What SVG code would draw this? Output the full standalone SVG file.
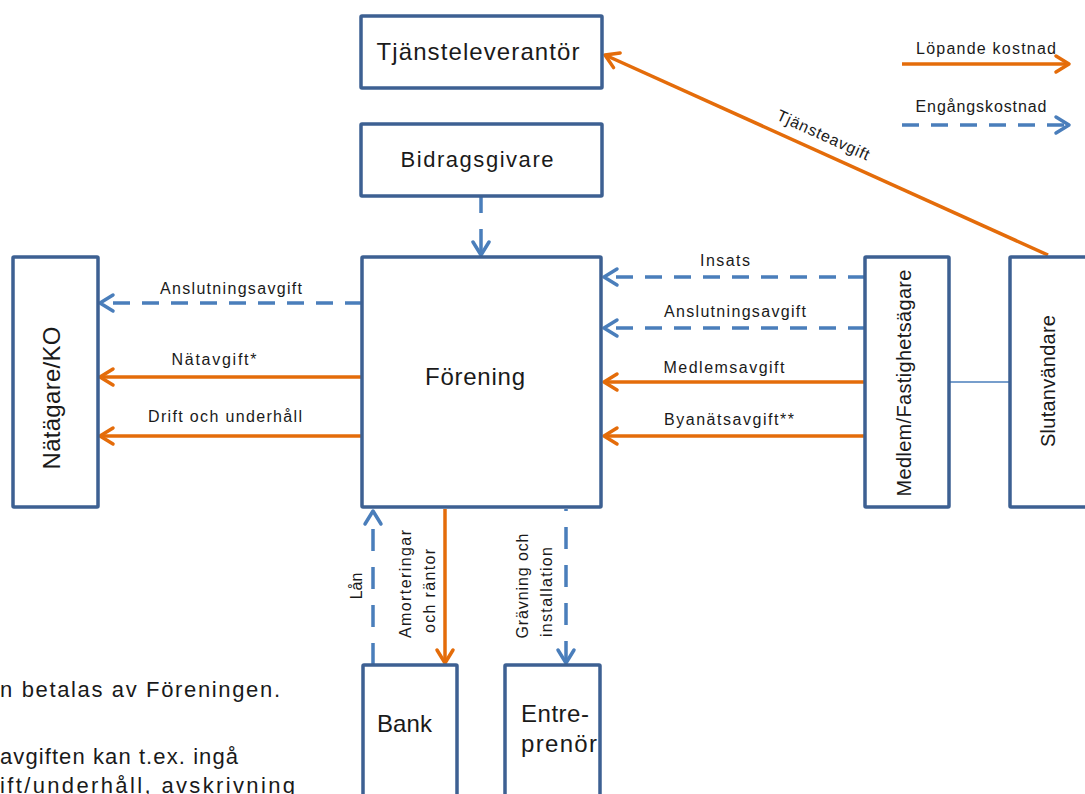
<svg xmlns="http://www.w3.org/2000/svg" width="1085" height="794" viewBox="0 0 1085 794">
<style>
  .box { fill: #ffffff; stroke: #3D6092; stroke-width: 3.5; }
  .t { font-family: "Liberation Sans", Arial, sans-serif; fill: #1a1a1a; }
  .big { font-size: 24px; }
  .mid { font-size: 20px; }
  .lbl { font-size: 16px; }
  .note { font-size: 22px; }
  .run { fill: none; stroke: #E46C0A; stroke-width: 3.5; }
  .once { fill: none; stroke: #4A7EBB; stroke-width: 3.5; stroke-dasharray: 17 12; }
  .oncev { fill: none; stroke: #4A7EBB; stroke-width: 3.5; stroke-dasharray: 22 16; }
  .thin { fill: none; stroke: #4A7EBB; stroke-width: 1.5; }
</style>
<defs>
  <marker id="aO" markerUnits="userSpaceOnUse" markerWidth="24" markerHeight="24" viewBox="-18 -12 24 24" refX="0" refY="0" orient="auto-start-reverse" overflow="visible">
    <path d="M-13,-8 L0,0 L-13,8" fill="none" stroke="#E46C0A" stroke-width="3.5" stroke-linecap="round" stroke-linejoin="round"/>
  </marker>
  <marker id="aB" markerUnits="userSpaceOnUse" markerWidth="24" markerHeight="24" viewBox="-18 -12 24 24" refX="0" refY="0" orient="auto-start-reverse" overflow="visible">
    <path d="M-13,-8 L0,0 L-13,8" fill="none" stroke="#4A7EBB" stroke-width="3.5" stroke-linecap="round" stroke-linejoin="round"/>
  </marker>
</defs>

<g id="connectors">
  <!-- Bidragsgivare -> Förening -->
  <path class="oncev" d="M481,255 L481,197" marker-start="url(#aB)" style="stroke-dasharray:26 16"/>
  <!-- Förening -> Nätägare -->
  <path class="once" d="M362,303 L100,303" marker-end="url(#aB)"/>
  <path class="run" d="M362,377 L100,377" marker-end="url(#aO)"/>
  <path class="run" d="M362,436 L100,436" marker-end="url(#aO)"/>
  <!-- Medlem -> Förening -->
  <path class="once" d="M865,277 L604,277" marker-end="url(#aB)"/>
  <path class="once" d="M865,328 L604,328" marker-end="url(#aB)"/>
  <path class="run" d="M865,382 L604,382" marker-end="url(#aO)"/>
  <path class="run" d="M865,436 L604,436" marker-end="url(#aO)"/>
  <!-- Medlem - Slutanvändare -->
  <path class="thin" d="M949,382 L1010,382"/>
  <!-- Slutanvändare -> Tjänsteleverantör -->
  <path class="run" d="M1048,255 L605,55" marker-end="url(#aO)"/>
  <!-- Bank -> Förening (Lån) -->
  <path class="oncev" d="M373,665 L373,511" marker-end="url(#aB)"/>
  <!-- Förening -> Bank -->
  <path class="run" d="M445,509 L445,663" marker-end="url(#aO)"/>
  <!-- Förening -> Entreprenör -->
  <path class="oncev" d="M566,663 L566,509" marker-start="url(#aB)"/>
  <!-- Legend -->
  <path class="run" d="M902,64 L1069,64" marker-end="url(#aO)"/>
  <path class="once" d="M902,125 L1069,125" marker-end="url(#aB)"/>
</g>

<g id="connector-labels">
  <text class="t lbl" x="231" y="294" text-anchor="middle" textLength="142" lengthAdjust="spacing">Anslutningsavgift</text>
  <text class="t lbl" x="214" y="365" text-anchor="middle" textLength="85" lengthAdjust="spacing">Nätavgift*</text>
  <text class="t lbl" x="225" y="422" text-anchor="middle" textLength="154" lengthAdjust="spacing">Drift och underhåll</text>
  <text class="t lbl" x="725" y="266" text-anchor="middle" textLength="50" lengthAdjust="spacing">Insats</text>
  <text class="t lbl" x="735" y="317" text-anchor="middle" textLength="142" lengthAdjust="spacing">Anslutningsavgift</text>
  <text class="t lbl" x="724" y="373" text-anchor="middle" textLength="121" lengthAdjust="spacing">Medlemsavgift</text>
  <text class="t lbl" x="729" y="425" text-anchor="middle" textLength="130" lengthAdjust="spacing">Byanätsavgift**</text>
  <text class="t lbl" text-anchor="middle" textLength="100" lengthAdjust="spacing" transform="translate(821,140) rotate(24.4)">Tjänsteavgift</text>
  <text class="t lbl" text-anchor="middle" transform="translate(362,586) rotate(-90)">Lån</text>
  <text class="t lbl" text-anchor="middle" textLength="108" lengthAdjust="spacing" transform="translate(411,584) rotate(-90)">Amorteringar</text>
  <text class="t lbl" text-anchor="middle" textLength="84" lengthAdjust="spacing" transform="translate(435,591) rotate(-90)">och räntor</text>
  <text class="t lbl" text-anchor="middle" textLength="105" lengthAdjust="spacing" transform="translate(528,586) rotate(-90)">Grävning och</text>
  <text class="t lbl" text-anchor="middle" textLength="90" lengthAdjust="spacing" transform="translate(552,592) rotate(-90)">installation</text>
  <text class="t lbl" x="986" y="54" text-anchor="middle" textLength="140" lengthAdjust="spacing">Löpande kostnad</text>
  <text class="t lbl" x="981" y="112" text-anchor="middle" textLength="131" lengthAdjust="spacing">Engångskostnad</text>
</g>

<g id="node-tjansteleverantor">
  <rect class="box" x="361" y="16" width="241" height="72" rx="1"/>
  <text class="t big" x="478" y="60" text-anchor="middle" textLength="203" lengthAdjust="spacing">Tjänsteleverantör</text>
</g>
<g id="node-bidragsgivare">
  <rect class="box" x="361" y="124" width="241" height="72" rx="1"/>
  <text class="t" style="font-size:22px" x="477" y="167" text-anchor="middle" textLength="153" lengthAdjust="spacing">Bidragsgivare</text>
</g>
<g id="node-forening">
  <rect class="box" x="362" y="257" width="239" height="250" rx="1"/>
  <text class="t big" x="475" y="385" text-anchor="middle" textLength="100" lengthAdjust="spacing">Förening</text>
</g>
<g id="node-natagare">
  <rect class="box" x="13" y="257" width="85" height="250" rx="1"/>
  <text class="t big" text-anchor="middle" textLength="143" lengthAdjust="spacing" transform="translate(60,398) rotate(-90)">Nätägare/KO</text>
</g>
<g id="node-medlem">
  <rect class="box" x="865" y="257" width="84" height="250" rx="1"/>
  <text class="t mid" text-anchor="middle" textLength="227" lengthAdjust="spacing" transform="translate(911,383) rotate(-90)">Medlem/Fastighetsägare</text>
</g>
<g id="node-slutanvandare">
  <rect class="box" x="1010" y="257" width="100" height="250" rx="1"/>
  <text class="t mid" text-anchor="middle" textLength="132" lengthAdjust="spacing" transform="translate(1055,381) rotate(-90)">Slutanvändare</text>
</g>
<g id="node-bank">
  <rect class="box" x="363" y="665" width="94" height="160" rx="1"/>
  <text class="t big" x="377" y="732" textLength="55" lengthAdjust="spacing">Bank</text>
</g>
<g id="node-entreprenor">
  <rect class="box" x="505" y="665" width="95" height="160" rx="1"/>
  <text class="t big" x="521" y="722" textLength="68" lengthAdjust="spacing">Entre-</text>
  <text class="t big" x="521" y="752" textLength="76" lengthAdjust="spacing">prenör</text>
</g>

<g id="footnotes">
  <text class="t note" x="0" y="697" textLength="280" lengthAdjust="spacing">n  betalas  av Föreningen.</text>
  <text class="t note" x="0" y="764" textLength="238" lengthAdjust="spacing">avgiften kan t.ex. ingå</text>
  <text class="t note" x="0" y="793" textLength="295" lengthAdjust="spacing">ift/underhåll,  avskrivning</text>
</g>
</svg>
